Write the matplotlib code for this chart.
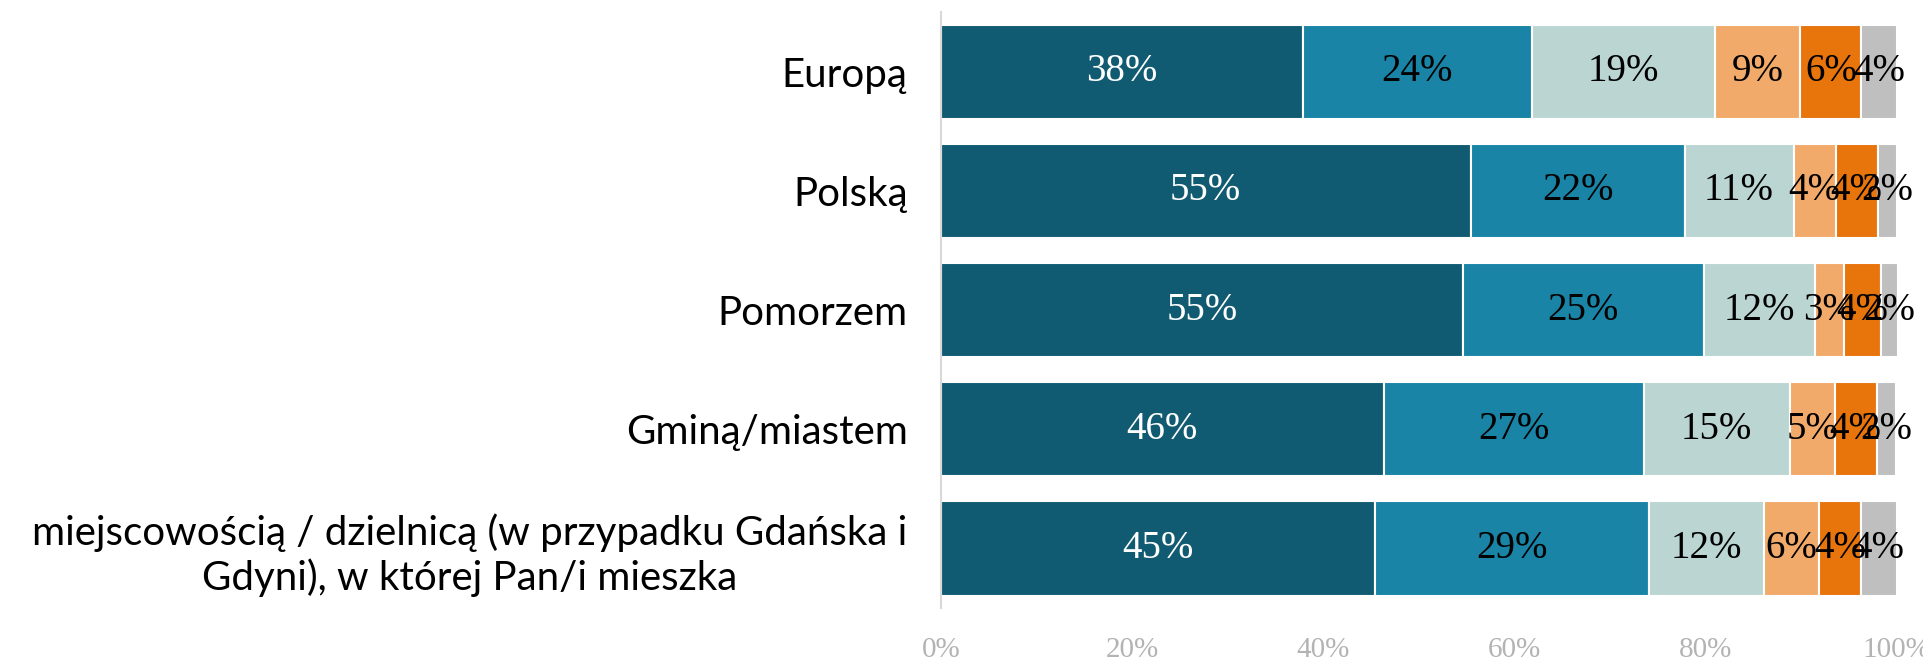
import numpy as np
import matplotlib
matplotlib.use('Agg')
import matplotlib.pyplot as plt

# kategorie (od góry)
kategorie = ['Europą', 'Polską', 'Pomorzem', 'Gminą/miastem',
             'miejscowością / dzielnicą (w przypadku Gdańska i\nGdyni), w której Pan/i mieszka']

# udziały odpowiedzi w procentach (6 poziomów)
s1 = [37.9, 55.4, 54.6, 46.3, 45.4]
s2 = [23.9, 22.4, 25.2, 27.2, 28.7]
s3 = [19.2, 11.4, 11.6, 15.3, 12.0]
s4 = [8.9, 4.4, 3.1, 4.7, 5.8]
s5 = [6.4, 4.4, 3.8, 4.4, 4.3]
s6 = [3.7, 2.0, 1.8, 2.0, 3.8]

x_ticks = [0, 20, 40, 60, 80, 100]

serie = [s1, s2, s3, s4, s5, s6]
kolory = ['#115b72', '#1984a6', '#bbd6d2', '#f2aa6b', '#e8740c', '#bfbfbf']
kolory_tekstu = ['white', 'black', 'black', 'black', 'black', 'black']

fig = plt.figure(figsize=(19.23, 6.64), dpi=100)
ax = fig.add_axes([0.4893, 0.0843, 0.4971, 0.8976])

y = np.arange(len(kategorie))
left = np.zeros(len(kategorie))
for vals, kol, kt in zip(serie, kolory, kolory_tekstu):
    vals = np.array(vals)
    bars = ax.barh(y, vals, left=left, height=0.79, color=kol,
                   edgecolor='white', linewidth=1.5)
    for b, v in zip(bars, vals):
        ax.text(b.get_x() + b.get_width() / 2, b.get_y() + b.get_height() / 2,
                f'{v:.0f}%', ha='center', va='center', color=kt,
                fontsize=28, family='Liberation Serif')
    left += vals

ax.set_xlim(0, 100)
ax.set_ylim(len(kategorie) - 0.5, -0.5)
ax.set_xticks(x_ticks)
ax.set_xticklabels([f'{t}%' for t in x_ticks], family='Liberation Serif',
                   fontsize=21, color='#b3b3b3')
ax.set_yticks(y)
ax.set_yticklabels(kategorie, fontsize=29, family='Lato', color='black')
for lab in ax.get_yticklabels():
    lab.set_multialignment('center')
ax.tick_params(axis='both', length=0)
ax.tick_params(axis='x', pad=21)
ax.tick_params(axis='y', pad=24)

for s in ['top', 'right', 'bottom']:
    ax.spines[s].set_visible(False)
ax.spines['left'].set_color('#d9d9d9')
ax.spines['left'].set_linewidth(1.5)

fig.savefig('out.png', dpi=100)
